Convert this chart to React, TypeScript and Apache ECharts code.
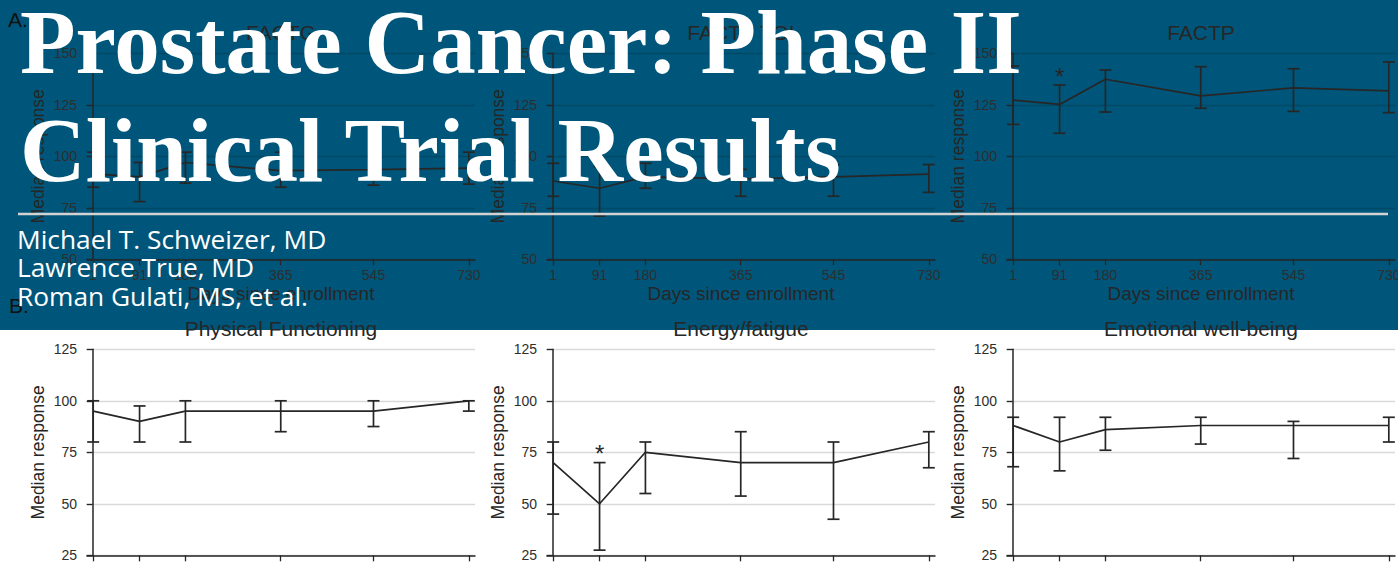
import React, { useEffect, useRef } from "react";
import * as echarts from "echarts";

// ---- data ----
const days = [1, 91, 180, 365, 545, 730];
const dayTicks = [1, 91, 180, 365, 545, 730];

const factgMedian = [91.5, 90, 97, 93, 93.5, 94.3];
const factgLow = [85, 78, 87, 85, 86, 86.5];
const factgHigh = [102, 97, 102, 102, 100, 102];

const toiMedian = [88, 84.5, 90, 89, 90, 91.3];
const toiLow = [80.6, 71, 84.5, 80.6, 80.6, 82.5];
const toiHigh = [96.6, 95, 96.6, 93.7, 96, 96];

const factpMedian = [127.3, 125.2, 137.4, 129.3, 133.2, 131.8];
const factpLow = [115.5, 111.2, 121.5, 123.3, 121.8, 121.2];
const factpHigh = [143.8, 134.6, 141.9, 143.5, 142.5, 145.8];
const factpStar = [0, 1, 0, 0, 0, 0];

const pfMedian = [95, 90, 95, 95, 95, 100];
const pfLow = [80, 80, 80, 85, 87.5, 95];
const pfHigh = [100, 97.5, 100, 100, 100, 100];

const enMedian = [70, 50, 75, 70, 70, 80];
const enLow = [45, 27.5, 55, 53.75, 42.5, 67.5];
const enHigh = [80, 70, 80, 85, 80, 85];
const enStar = [0, 1, 0, 0, 0, 0];

const ewMedian = [88, 80, 86, 88, 88, 88];
const ewLow = [68, 66, 76, 79, 72, 80];
const ewHigh = [92, 92, 92, 92, 90, 92];

const noStar = [0, 0, 0, 0, 0, 0];

const panelTitles = [
  "FACTG",
  "FACTP TOI",
  "FACTP",
  "Physical Functioning",
  "Energy/fatigue",
  "Emotional well-being",
];
const topYTicks = { min: 50, max: 150 };
const bottomYTicks = { min: 25, max: 125 };

const headline1 = "Prostate Cancer: Phase II";
const headline2 = "Clinical Trial Results";
const authors = ["Michael T. Schweizer, MD", "Lawrence True, MD", "Roman Gulati, MS, et al."];

// ---- styling ----
const W = 1398;
const H = 564;
const BLUE = "#00567a";
const INK = "#262626";
const FONT = '"Liberation Sans", Arial, Helvetica, sans-serif';
const GRID_LEFTS = [87, 547, 1007];
const GRID_W = 388;
const GRID_TOPS = [53.3, 349.3];
const GRID_H = 206;

type Panel = {
  title: string;
  median: number[];
  low: number[];
  high: number[];
  star: number[];
  row: number;
  col: number;
};

const panels: Panel[] = [
  { title: panelTitles[0], median: factgMedian, low: factgLow, high: factgHigh, star: noStar, row: 0, col: 0 },
  { title: panelTitles[1], median: toiMedian, low: toiLow, high: toiHigh, star: noStar, row: 0, col: 1 },
  { title: panelTitles[2], median: factpMedian, low: factpLow, high: factpHigh, star: factpStar, row: 0, col: 2 },
  { title: panelTitles[3], median: pfMedian, low: pfLow, high: pfHigh, star: noStar, row: 1, col: 0 },
  { title: panelTitles[4], median: enMedian, low: enLow, high: enHigh, star: enStar, row: 1, col: 1 },
  { title: panelTitles[5], median: ewMedian, low: ewLow, high: ewHigh, star: noStar, row: 1, col: 2 },
];

const renderErrorBar = (params: any, api: any) => {
  const x = api.value(0);
  const lo = api.value(1);
  const hi = api.value(2);
  const star = api.value(3);
  const pHi = api.coord([x, hi]);
  const pLo = api.coord([x, lo]);
  const w = 6;
  const style = { stroke: INK, lineWidth: 1.7 };
  const children: any[] = [
    { type: "line", shape: { x1: pHi[0], y1: pHi[1], x2: pLo[0], y2: pLo[1] }, style },
    { type: "line", shape: { x1: pHi[0] - w, y1: pHi[1], x2: pHi[0] + w, y2: pHi[1] }, style },
    { type: "line", shape: { x1: pLo[0] - w, y1: pLo[1], x2: pLo[0] + w, y2: pLo[1] }, style },
  ];
  if (star) {
    children.push({
      type: "text",
      x: pHi[0],
      y: pHi[1] - 9,
      style: {
        text: "*",
        fill: INK,
        font: `24px ${FONT}`,
        align: "center",
        verticalAlign: "middle",
      },
    });
  }
  return { type: "group", children };
};

export default function App() {
  const ref = useRef<HTMLDivElement>(null);

  useEffect(() => {
    document.body.style.margin = "0";
    if (!ref.current) return;
    const chart = echarts.init(ref.current, undefined, { renderer: "svg" });

    const grid = panels.map((p) => ({
      left: GRID_LEFTS[p.col],
      top: GRID_TOPS[p.row],
      width: GRID_W,
      height: GRID_H,
      containLabel: false,
      outerBoundsMode: "none",
    }));

    const xAxis = panels.map((p, i) => ({
      type: "value",
      gridIndex: i,
      min: -11,
      max: 742,
      axisLine: { show: true, onZero: false, lineStyle: { color: INK, width: 1.5 } },
      axisTick: { show: true, length: 6, customValues: dayTicks, lineStyle: { color: INK, width: 1.3 } },
      axisLabel: {
        show: p.row === 0,
        customValues: dayTicks,
        margin: 9,
        color: "#2e2e2e",
        fontSize: 14,
        fontFamily: FONT,
      },
      splitLine: { show: false },
      name: p.row === 0 ? "Days since enrollment" : "",
      nameLocation: "middle",
      nameGap: 25,
      nameTextStyle: { fontSize: 19, color: INK, fontFamily: FONT },
    }));

    const yAxis = panels.map((p, i) => {
      const rng = p.row === 0 ? topYTicks : bottomYTicks;
      return {
        type: "value",
        gridIndex: i,
        min: rng.min,
        max: rng.max,
        interval: 25,
        axisLine: { show: true, lineStyle: { color: INK, width: 1.5 } },
        axisTick: { show: true, length: 6, lineStyle: { color: INK, width: 1.3 } },
        axisLabel: { margin: 10, color: "#2e2e2e", fontSize: 14, fontFamily: FONT },
        splitLine: { show: true, lineStyle: { color: "rgba(0,0,0,0.15)", width: 1.3 } },
        name: "Median response",
        nameLocation: "middle",
        nameGap: 40,
        nameTextStyle: { fontSize: 17.5, color: INK, fontFamily: FONT },
      };
    });

    const series: any[] = [];
    panels.forEach((p, i) => {
      series.push({
        type: "line",
        xAxisIndex: i,
        yAxisIndex: i,
        data: days.map((d, k) => [d, p.median[k]]),
        symbol: "none",
        lineStyle: { color: INK, width: 1.7 },
        z: 3,
      });
      series.push({
        type: "custom",
        xAxisIndex: i,
        yAxisIndex: i,
        data: days.map((d, k) => [d, p.low[k], p.high[k], p.star[k]]),
        encode: { x: 0, y: [1, 2] },
        renderItem: renderErrorBar,
        z: 3,
      });
    });

    const titleTexts = panels.map((p) => ({
      type: "text",
      x: GRID_LEFTS[p.col] + GRID_W / 2,
      y: p.row === 0 ? 32.5 : 328.8,
      z: 10,
      silent: true,
      style: {
        text: p.title,
        fill: INK,
        font: `21px ${FONT}`,
        align: "center",
        verticalAlign: "middle",
      },
    }));

    const graphic: any[] = [
      {
        type: "rect",
        z: -100,
        silent: true,
        shape: { x: 0, y: 0, width: W, height: 330 },
        style: { fill: BLUE },
      },
      ...titleTexts,
      {
        type: "text",
        x: 8,
        y: 19.4,
        z: 10,
        silent: true,
        style: { text: "A.", fill: "#111", font: `21px ${FONT}`, align: "left", verticalAlign: "middle" },
      },
      {
        type: "text",
        x: 9,
        y: 305,
        z: 10,
        silent: true,
        style: { text: "B.", fill: "#111", font: `21px ${FONT}`, align: "left", verticalAlign: "middle" },
      },
      {
        type: "text",
        x: 20,
        y: 42.6,
        z: 100,
        silent: true,
        style: {
          text: headline1,
          fill: "#ffffff",
          font: `bold 91px "Liberation Serif", "Times New Roman", serif`,
          align: "left",
          verticalAlign: "middle",
        },
      },
      {
        type: "text",
        x: 20,
        y: 150.8,
        z: 100,
        silent: true,
        style: {
          text: headline2,
          fill: "#ffffff",
          font: `bold 91px "Liberation Serif", "Times New Roman", serif`,
          align: "left",
          verticalAlign: "middle",
        },
      },
      {
        type: "line",
        z: 100,
        silent: true,
        shape: { x1: 18, y1: 214, x2: 1388, y2: 214 },
        style: { stroke: "#d2d2d2", lineWidth: 2.6 },
      },
      ...authors.map((a, k) => ({
        type: "text",
        x: 17,
        y: 238.6 + k * 28.7,
        z: 100,
        silent: true,
        style: {
          text: a,
          fill: "#ffffff",
          font: `26.3px "Open Sans", "Noto Sans", sans-serif`,
          align: "left",
          verticalAlign: "middle",
        },
      })),
    ];

    chart.setOption({
      animation: false,
      backgroundColor: "#ffffff",
      grid,
      xAxis,
      yAxis,
      series,
      graphic,
    });

    return () => {
      chart.dispose();
    };
  }, []);

  return <div ref={ref} style={{ width: W, height: H, overflow: "hidden" }} />;
}
